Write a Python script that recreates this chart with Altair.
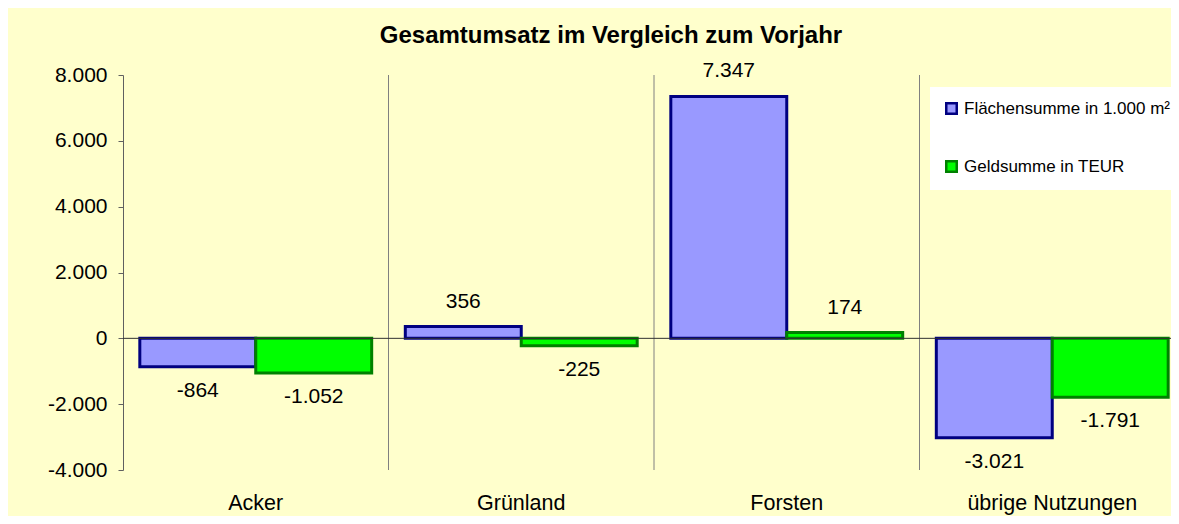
import altair as alt
import pandas as pd

categories = ["Acker", "Grünland", "Forsten", "übrige Nutzungen"]
series = ["Flächensumme in 1.000 m²", "Geldsumme in TEUR"]
flaeche = [-864, 356, 7347, -3021]
geld = [-1052, -225, 174, -1791]
y_ticks = [-4000, -2000, 0, 2000, 4000, 6000, 8000]

rows = []
for c, f, g in zip(categories, flaeche, geld):
    rows.append({"Kategorie": c, "Reihe": series[0], "Wert": f})
    rows.append({"Kategorie": c, "Reihe": series[1], "Wert": g})
df = pd.DataFrame(rows)
sep_df = pd.DataFrame({"Kategorie": categories[1:]})

FONT = "Liberation Sans"
BG = "#FFFFCC"
fill_colors = ["#9999FF", "#00FF00"]
stroke_colors = ["#000080", "#008000"]
GRID = "#808080"

label_expr = "replace(replace(format(datum.value, ','), ',', '.'), '\u2212', '-')"

x_scale = alt.Scale(domain=categories, paddingInner=0, paddingOuter=0, range=[0, 1062])
x_enc = alt.X(
    "Kategorie:N",
    sort=categories,
    scale=x_scale,
    axis=alt.Axis(
        title=None, domain=False, ticks=False, grid=False, labelAngle=0,
        labelAlign="center", labelBaseline="top",
        labelFontSize=21.5, labelFont=FONT, labelColor="black", labelPadding=22,
    ),
)
xoff_enc = alt.XOffset(
    "Reihe:N", sort=series,
    scale=alt.Scale(domain=series, paddingInner=0, paddingOuter=0.145),
)
y_scale = alt.Scale(domain=[-4000, 8000], nice=False, zero=False)
y_enc = alt.Y(
    "Wert:Q",
    scale=y_scale,
    axis=alt.Axis(
        title=None, grid=False, values=y_ticks, labelExpr=label_expr,
        labelFontSize=21, labelFont=FONT, labelColor="black", labelPadding=11,
        tickSize=5, tickColor="#606060", domainColor="#606060",
    ),
)

legend = alt.Legend(
    title=None, orient="none", legendX=807, legendY=12,
    fillColor="white", padding=13, rowPadding=37,
    symbolType="square", symbolSize=110, symbolStrokeWidth=2.5,
    labelFontSize=17, labelFont=FONT, labelColor="black", labelLimit=400,
)

base = alt.Chart(df)

seps = alt.Chart(sep_df).mark_rule(color=GRID, strokeWidth=1).encode(
    x=alt.X("Kategorie:N", sort=categories, bandPosition=0),
    y=alt.datum(8000, scale=y_scale),
    y2=alt.datum(-4000),
)

bars = base.mark_bar(strokeWidth=3, strokeJoin="miter").encode(
    x=x_enc,
    xOffset=xoff_enc,
    y=y_enc,
    y2=alt.datum(0),
    fill=alt.Fill("Reihe:N", sort=series,
                  scale=alt.Scale(domain=series, range=fill_colors), legend=legend),
    stroke=alt.Stroke("Reihe:N", sort=series,
                      scale=alt.Scale(domain=series, range=stroke_colors), legend=legend),
)

zero = alt.Chart(pd.DataFrame({"v": [0]})).mark_rule(color="#303030", strokeWidth=1).encode(
    y=alt.Y("v:Q", scale=y_scale)
)

calc = "replace(replace(format(datum.Wert, ','), ',', '.'), '\u2212', '-')"

pos_text = base.transform_filter("datum.Wert >= 0").transform_calculate(lab=calc).mark_text(
    baseline="alphabetic", dy=-19, fontSize=21, font=FONT, color="black"
).encode(x=alt.X("Kategorie:N", sort=categories), xOffset=alt.XOffset("Reihe:N", sort=series),
         y=alt.Y("Wert:Q", scale=y_scale), text="lab:N")

neg_text = base.transform_filter("datum.Wert < 0").transform_calculate(lab=calc).mark_text(
    baseline="alphabetic", dy=30, fontSize=21, font=FONT, color="black"
).encode(x=alt.X("Kategorie:N", sort=categories), xOffset=alt.XOffset("Reihe:N", sort=series),
         y=alt.Y("Wert:Q", scale=y_scale), text="lab:N")

chart = alt.layer(seps, bars, zero, pos_text, neg_text).properties(
    width=1048,
    height=395,
    background=BG,
    padding={"left": 115, "top": 67, "right": 0, "bottom": 46},
    autosize=alt.AutoSizeParams(type="none"),
    title=alt.TitleParams(
        "Gesamtumsatz im Vergleich zum Vorjahr",
        fontSize=24, font=FONT, fontWeight="bold", color="black",
        anchor="middle", dx=-36, offset=12,
    ),
).configure_view(stroke=None, fill=BG)

chart.save("out.html", embed_options={"renderer": "svg", "actions": False})
